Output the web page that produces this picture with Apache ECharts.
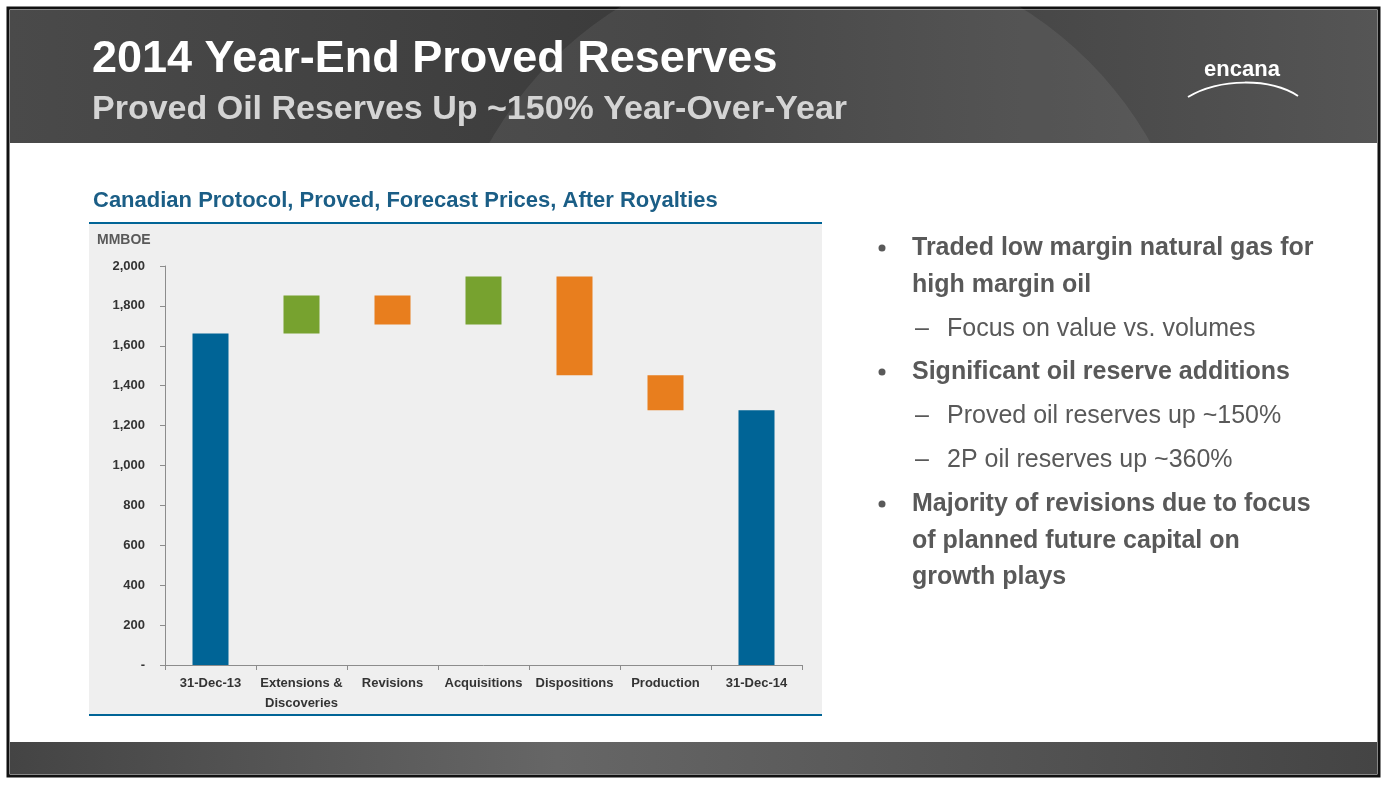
<!DOCTYPE html>
<html><head><meta charset="utf-8">
<script src="https://cdn.jsdelivr.net/npm/echarts@6/dist/echarts.min.js"></script>
<style>html,body{margin:0;padding:0;background:#fff}#c{width:1396px;height:792px}</style>
</head><body><div id="c"></div>
<script>
const categories = ['31-Dec-13','Extensions &\nDiscoveries','Revisions','Acquisitions','Dispositions','Production','31-Dec-14'];
const baseValues = [0,1662,1707,1707,1452,1277,0];
const barValues = [1662,190,145,240,495,175,1277];
const barColors = ['#006496','#77a22f','#e87e1e','#77a22f','#e87e1e','#e87e1e','#006496'];
const yTicks = [0,200,400,600,800,1000,1200,1400,1600,1800,2000];

const F = '"Liberation Sans Narrow","Arial Narrow","Liberation Sans",Arial,sans-serif';
const chart = echarts.init(document.getElementById('c'));
const bullets = [
  {t:'Traded low margin natural gas for', y:248, b:true, dot:true},
  {t:'high margin oil', y:285, b:true},
  {t:'Focus on value vs. volumes', y:329, b:false, dash:true},
  {t:'Significant oil reserve additions', y:372, b:true, dot:true},
  {t:'Proved oil reserves up ~150%', y:416, b:false, dash:true},
  {t:'2P oil reserves up ~360%', y:460, b:false, dash:true},
  {t:'Majority of revisions due to focus', y:504, b:true, dot:true},
  {t:'of planned future capital on', y:541, b:true},
  {t:'growth plays', y:577, b:true}
];
const BZ = -10;
const g = [
  {type:'rect',shape:{x:8,y:8,width:1371,height:768},style:{fill:'#fff',stroke:'#111',lineWidth:3},z:BZ},
  {type:'rect',shape:{x:10,y:10,width:1367,height:133},style:{fill:new echarts.graphic.LinearGradient(0,0,1,0,[{offset:0,color:'#4a4a4a'},{offset:0.5,color:'#3a3a3a'},{offset:1,color:'#555'}])},z:BZ},
  {type:'circle',shape:{cx:820,cy:330,r:380},style:{fill:'rgba(255,255,255,0.07)'},z:BZ},
  {type:'rect',shape:{x:10,y:143,width:1367,height:600},style:{fill:'#fff'},z:BZ},
  {type:'rect',shape:{x:10,y:742,width:1367,height:32},style:{fill:new echarts.graphic.LinearGradient(0,0,1,0,[{offset:0,color:'#444'},{offset:0.4,color:'#666'},{offset:1,color:'#444'}])},z:BZ},
  {type:'rect',shape:{x:89,y:224,width:733,height:491},style:{fill:'#efefef'},z:BZ},
  {type:'text',x:92,y:60,style:{text:'2014 Year-End Proved Reserves',fill:'#fff',font:'bold 45px "Liberation Sans",Arial,sans-serif',textVerticalAlign:'middle'},z:5},
  {type:'text',x:92,y:110,style:{text:'Proved Oil Reserves Up ~150% Year-Over-Year',fill:'#d4d4d4',font:'bold 34px "Liberation Sans",Arial,sans-serif',textVerticalAlign:'middle'},z:5},
  {type:'text',x:1242,y:70,style:{text:'encana',fill:'#fff',font:'bold 22px "Liberation Sans",Arial,sans-serif',textAlign:'center',textVerticalAlign:'middle'},z:5},
  {type:'bezierCurve',shape:{x1:1188,y1:97,x2:1298,y2:96,cpx1:1220,cpy1:78,cpx2:1270,cpy2:78},style:{stroke:'#fff',lineWidth:2,fill:null},z:5},
  {type:'line',shape:{x1:89,y1:223,x2:822,y2:223},style:{stroke:'#006496',lineWidth:2},z:4},
  {type:'line',shape:{x1:89,y1:715,x2:822,y2:715},style:{stroke:'#006496',lineWidth:2},z:4},
  {type:'text',x:93,y:201,style:{text:'Canadian Protocol, Proved, Forecast Prices, After Royalties',fill:'#1b5e86',font:'bold 22px '+F,textVerticalAlign:'middle'},z:5},
  {type:'text',x:97,y:240,style:{text:'MMBOE',fill:'#595959',font:'bold 14px '+F,textVerticalAlign:'middle'},z:5}
];
bullets.forEach(b=>{
  const x = b.b ? 912 : 947;
  if(b.dot) g.push({type:'circle',shape:{cx:882,cy:b.y,r:3.5},style:{fill:'#595959'},z:5});
  if(b.dash) g.push({type:'text',x:915,y:b.y,style:{text:'–',fill:'#595959',font:'25px '+F,textVerticalAlign:'middle'},z:5});
  g.push({type:'text',x:x,y:b.y,style:{text:b.t,fill:'#595959',font:(b.b?'bold ':'')+'25px '+F,textVerticalAlign:'middle'},z:5});
});
chart.setOption({
  animation:false,
  graphic:{elements:g},
  grid:{left:165,right:594,top:266,bottom:127,containLabel:false},
  xAxis:{type:'category',data:categories,axisLine:{lineStyle:{color:'#8c8c8c'}},axisTick:{show:true,length:5,lineStyle:{color:'#8c8c8c'}},
    axisLabel:{interval:0,color:'#333',fontFamily:F,fontWeight:'bold',fontSize:13,lineHeight:20,margin:8}},
  yAxis:{type:'value',min:0,max:2000,interval:200,splitLine:{show:false},axisLine:{show:true,lineStyle:{color:'#8c8c8c'}},
    axisTick:{show:true,length:5,lineStyle:{color:'#8c8c8c'}},
    axisLabel:{color:'#333',fontFamily:F,fontWeight:'bold',fontSize:13,margin:20,formatter:v=>v===0?'-':v.toLocaleString('en-US')}},
  series:[
    {type:'bar',stack:'w',data:baseValues,itemStyle:{color:'transparent'},barWidth:36,silent:true,z:6},
    {type:'bar',stack:'w',data:barValues.map((v,i)=>({value:v,itemStyle:{color:barColors[i]}})),barWidth:36,z:6}
  ]
});
</script></body></html>
